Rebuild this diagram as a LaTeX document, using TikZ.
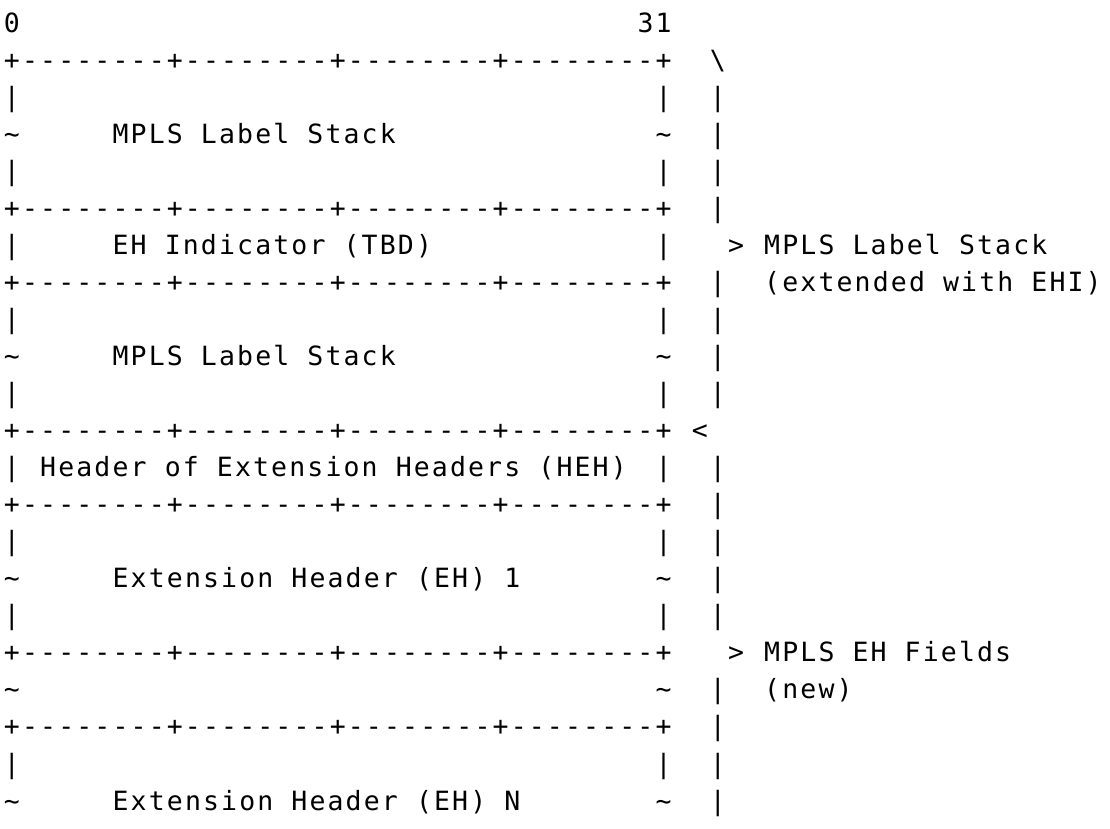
\documentclass[tikz,border=0pt]{standalone}
\usepackage{fontspec}
\newfontfamily\asciifont[Ligatures=TeXOff,LetterSpace=8.1]{DejaVu Sans Mono}
\newcommand{\colw}{18.1}
\newcommand{\rowh}{37.05}
\newcommand{\cellx}{4}
\newcommand{\celly}{32}

\begin{document}
\begin{tikzpicture}[x=1pt,y=1pt,
 ascii/.style={font=\asciifont\fontsize{26.5}{26.5}\selectfont,anchor=base west,inner sep=0pt,outer sep=0pt}]
\useasboundingbox[fill=white] (0,0) rectangle (1110,-828);
% word ruler
\node[ascii] (bit0) at ({\cellx+\colw*0},{-\celly}) {0};
\node[ascii] (bit31) at ({\cellx+\colw*35},{-\celly}) {31};
% field borders
\foreach \r in {2,6,8,12,14,18,20}
  \node[ascii] (rule\r) at ({\cellx},{-\celly-\rowh*(\r-1)}) {+--------+--------+--------+--------+};
\foreach \r in {3,5,7,9,11,13,15,17,21} {
  \node[ascii] (lbar\r) at ({\cellx},{-\celly-\rowh*(\r-1)}) {|};
  \node[ascii] (rbar\r) at ({\cellx+\colw*36},{-\celly-\rowh*(\r-1)}) {|};
}
\foreach \r in {4,10,16,19,22} {
  \node[ascii] (ltil\r) at ({\cellx},{-\celly-\rowh*(\r-1)}) {\textasciitilde};
  \node[ascii] (rtil\r) at ({\cellx+\colw*36},{-\celly-\rowh*(\r-1)}) {\textasciitilde};
}
% field names
\foreach \c/\r/\t [count=\i] in {6/4/MPLS Label Stack,6/7/EH Indicator (TBD),6/10/MPLS Label Stack,
  2/13/Header of Extension Headers (HEH),6/16/Extension Header (EH) 1,6/22/Extension Header (EH) N}
  \node[ascii] (field\i) at ({\cellx+\colw*\c},{-\celly-\rowh*(\r-1)}) {\t};
% brackets on the right
\foreach \r in {3,4,5,6,8,9,10,11,13,14,15,16,17,19,20,21,22}
  \node[ascii] (brace\r) at ({\cellx+\colw*39},{-\celly-\rowh*(\r-1)}) {|};
\node[ascii] (top) at ({\cellx+\colw*39},{-\celly-\rowh}) {\textbackslash};
\node[ascii] (split) at ({\cellx+\colw*38},{-\celly-\rowh*11}) {<};
\node[ascii] (tip1) at ({\cellx+\colw*40},{-\celly-\rowh*6}) {>};
\node[ascii] (tip2) at ({\cellx+\colw*40},{-\celly-\rowh*17}) {>};
\foreach \r/\t [count=\i] in {7/MPLS Label Stack,8/(extended with EHI),18/MPLS EH Fields,19/(new)}
  \node[ascii] (part\i) at ({\cellx+\colw*42},{-\celly-\rowh*(\r-1)}) {\t};
\end{tikzpicture}
\end{document}
